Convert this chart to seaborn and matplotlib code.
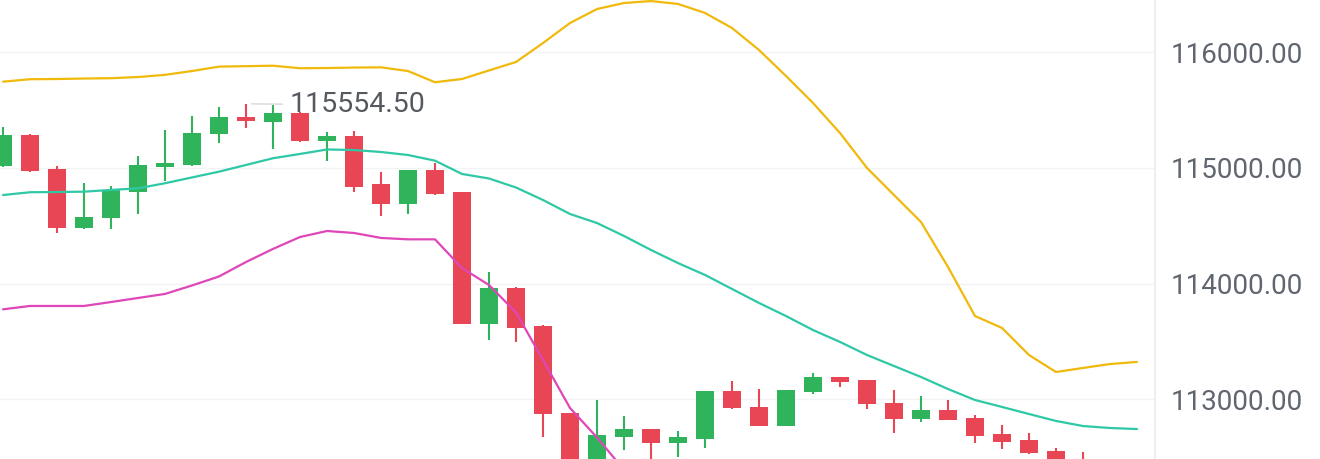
import numpy as np
import pandas as pd
import matplotlib
matplotlib.use("Agg")
import matplotlib.pyplot as plt
import seaborn as sns

# candles, oldest first (the last few sit partly below the visible range)
opens = [115017, 115285, 114991, 114481, 114567, 114792, 115008, 115026, 115294, 115441,
         115397, 115475, 115233, 115276, 114861, 114688, 114982, 114792, 113651, 113962,
         113634, 112882, 112320, 112674, 112743, 112622, 112657, 113072, 112933, 112769,
         113063, 113193, 113167, 112968, 112830, 112908, 112838, 112700, 112648, 112553,
         112458]
highs = [115354, 115290, 115017, 114870, 114844, 115103, 115328, 115449, 115527, 115554.5,
         115544, 115480, 115311, 115320, 114965, 114985, 115043, 114795, 114101, 113971,
         113642, 112885, 112994, 112855, 112746, 112726, 113075, 113158, 113089, 113083,
         113227, 113196, 113170, 113080, 113029, 112994, 112864, 112778, 112709, 112579,
         112544]
lows = [115008, 114965, 114438, 114475, 114472, 114602, 114887, 115020, 115216, 115345,
        115164, 115224, 115060, 114792, 114585, 114602, 114770, 113648, 113513, 113495,
        112674, 112233, 112216, 112562, 112458, 112501, 112579, 112920, 112765, 112765,
        113046, 113106, 112916, 112709, 112804, 112818, 112622, 112570, 112530, 112389,
        112300]
closes = [115285, 114974, 114481, 114576, 114809, 115026, 115043, 115302, 115441, 115406,
          115475, 115233, 115276, 114835, 114688, 114982, 114775, 113651, 113962, 113616,
          112873, 112302, 112691, 112743, 112622, 112674, 113072, 112925, 112769, 113080,
          113193, 113150, 112959, 112830, 112908, 112821, 112683, 112631, 112536, 112432,
          112346]

# bollinger bands
upper = [115746, 115767, 115769, 115773, 115776, 115786, 115805, 115838, 115876, 115880,
         115884, 115862, 115864, 115868, 115870, 115838, 115741, 115769, 115843, 115916,
         116080, 116253, 116374, 116426, 116443, 116418, 116340, 116210, 116020, 115795,
         115562, 115302, 115000, 114766, 114533, 114144, 113720, 113617, 113383, 113236,
         113271, 113305, 113323]
middle = [114766, 114790, 114792, 114795, 114810, 114824, 114868, 114918, 114968, 115026,
          115084, 115121, 115160, 115155, 115138, 115112, 115063, 114948, 114909, 114831,
          114723, 114602, 114524, 114412, 114291, 114178, 114075, 113954, 113833, 113720,
          113599, 113496, 113383, 113288, 113193, 113089, 112994, 112934, 112873, 112813,
          112769, 112752, 112743]
lower = [113778, 113807, 113807, 113807, 113841, 113876, 113911, 113984, 114062, 114187,
         114300, 114403, 114455, 114438, 114395, 114383, 114383, 114135, 113988, 113751,
         113340, 112925, 112670, 112390]

price_ticks = [113000, 114000, 115000, 116000]

GREEN = "#2fb35b"
RED = "#e84654"
YELLOW = "#f0b90b"
TEAL = "#2fc8a6"
PINK = "#df47b8"
LABEL = "#5f6670"

sns.set_style("white")
plt.rcParams["font.family"] = ["Roboto", "DejaVu Sans"]

candles = pd.DataFrame({"open": opens, "high": highs, "low": lows, "close": closes})
candles["idx"] = np.arange(len(candles))
rising = candles["close"] >= candles["open"]
colors = np.where(rising, GREEN, RED)

bands = pd.DataFrame({"idx": np.arange(len(upper)), "upper": upper, "middle": middle})
low_band = pd.DataFrame({"idx": np.arange(len(lower)), "lower": lower})

fig = plt.figure(figsize=(13.2, 4.59), dpi=100)
ax = fig.add_axes([0, 0, 1155 / 1320, 1])

# candles
ax.vlines(candles["idx"], candles["low"], candles["high"], colors=colors, lw=1.5, zorder=2)
body_bottom = candles[["open", "close"]].min(axis=1)
body_height = (candles["close"] - candles["open"]).abs()
ax.bar(candles["idx"], body_height, bottom=body_bottom, width=0.67, color=colors,
       linewidth=0, zorder=2)

# bands on top
sns.lineplot(data=bands, x="idx", y="upper", color=YELLOW, lw=1.6, ax=ax, zorder=3)
sns.lineplot(data=bands, x="idx", y="middle", color=TEAL, lw=1.6, ax=ax, zorder=3)
sns.lineplot(data=low_band, x="idx", y="lower", color=PINK, lw=1.6, ax=ax, zorder=3)

# max price marker
top = candles["high"].idxmax()
ax.annotate(f"{candles['high'][top]:.2f}", xy=(top, candles["high"][top]),
            xytext=(44, -1), textcoords="offset pixels", va="center", ha="left",
            fontsize=20.5, color="#555a60",
            arrowprops=dict(arrowstyle="-", color="#d5d8dc", lw=1, shrinkA=3, shrinkB=4))

ax.set_xlim(-3 / 27, 1152 / 27)
ax.set_ylim(112484, 116452)
ax.set_xticks([])
ax.yaxis.tick_right()
ax.set_yticks(price_ticks)
ax.set_yticklabels([f"{t:.2f}" for t in price_ticks])
ax.tick_params(axis="y", length=0, pad=11, labelsize=20, labelcolor=LABEL)
ax.set_xlabel("")
ax.set_ylabel("")
ax.grid(axis="y", color="#f1f3f5", lw=1)
ax.set_axisbelow(True)
for side in ["left", "top", "bottom"]:
    ax.spines[side].set_visible(False)
ax.spines["right"].set_color("#e7ecf1")
ax.spines["right"].set_linewidth(1.2)

fig.savefig("out.png", dpi=100)
